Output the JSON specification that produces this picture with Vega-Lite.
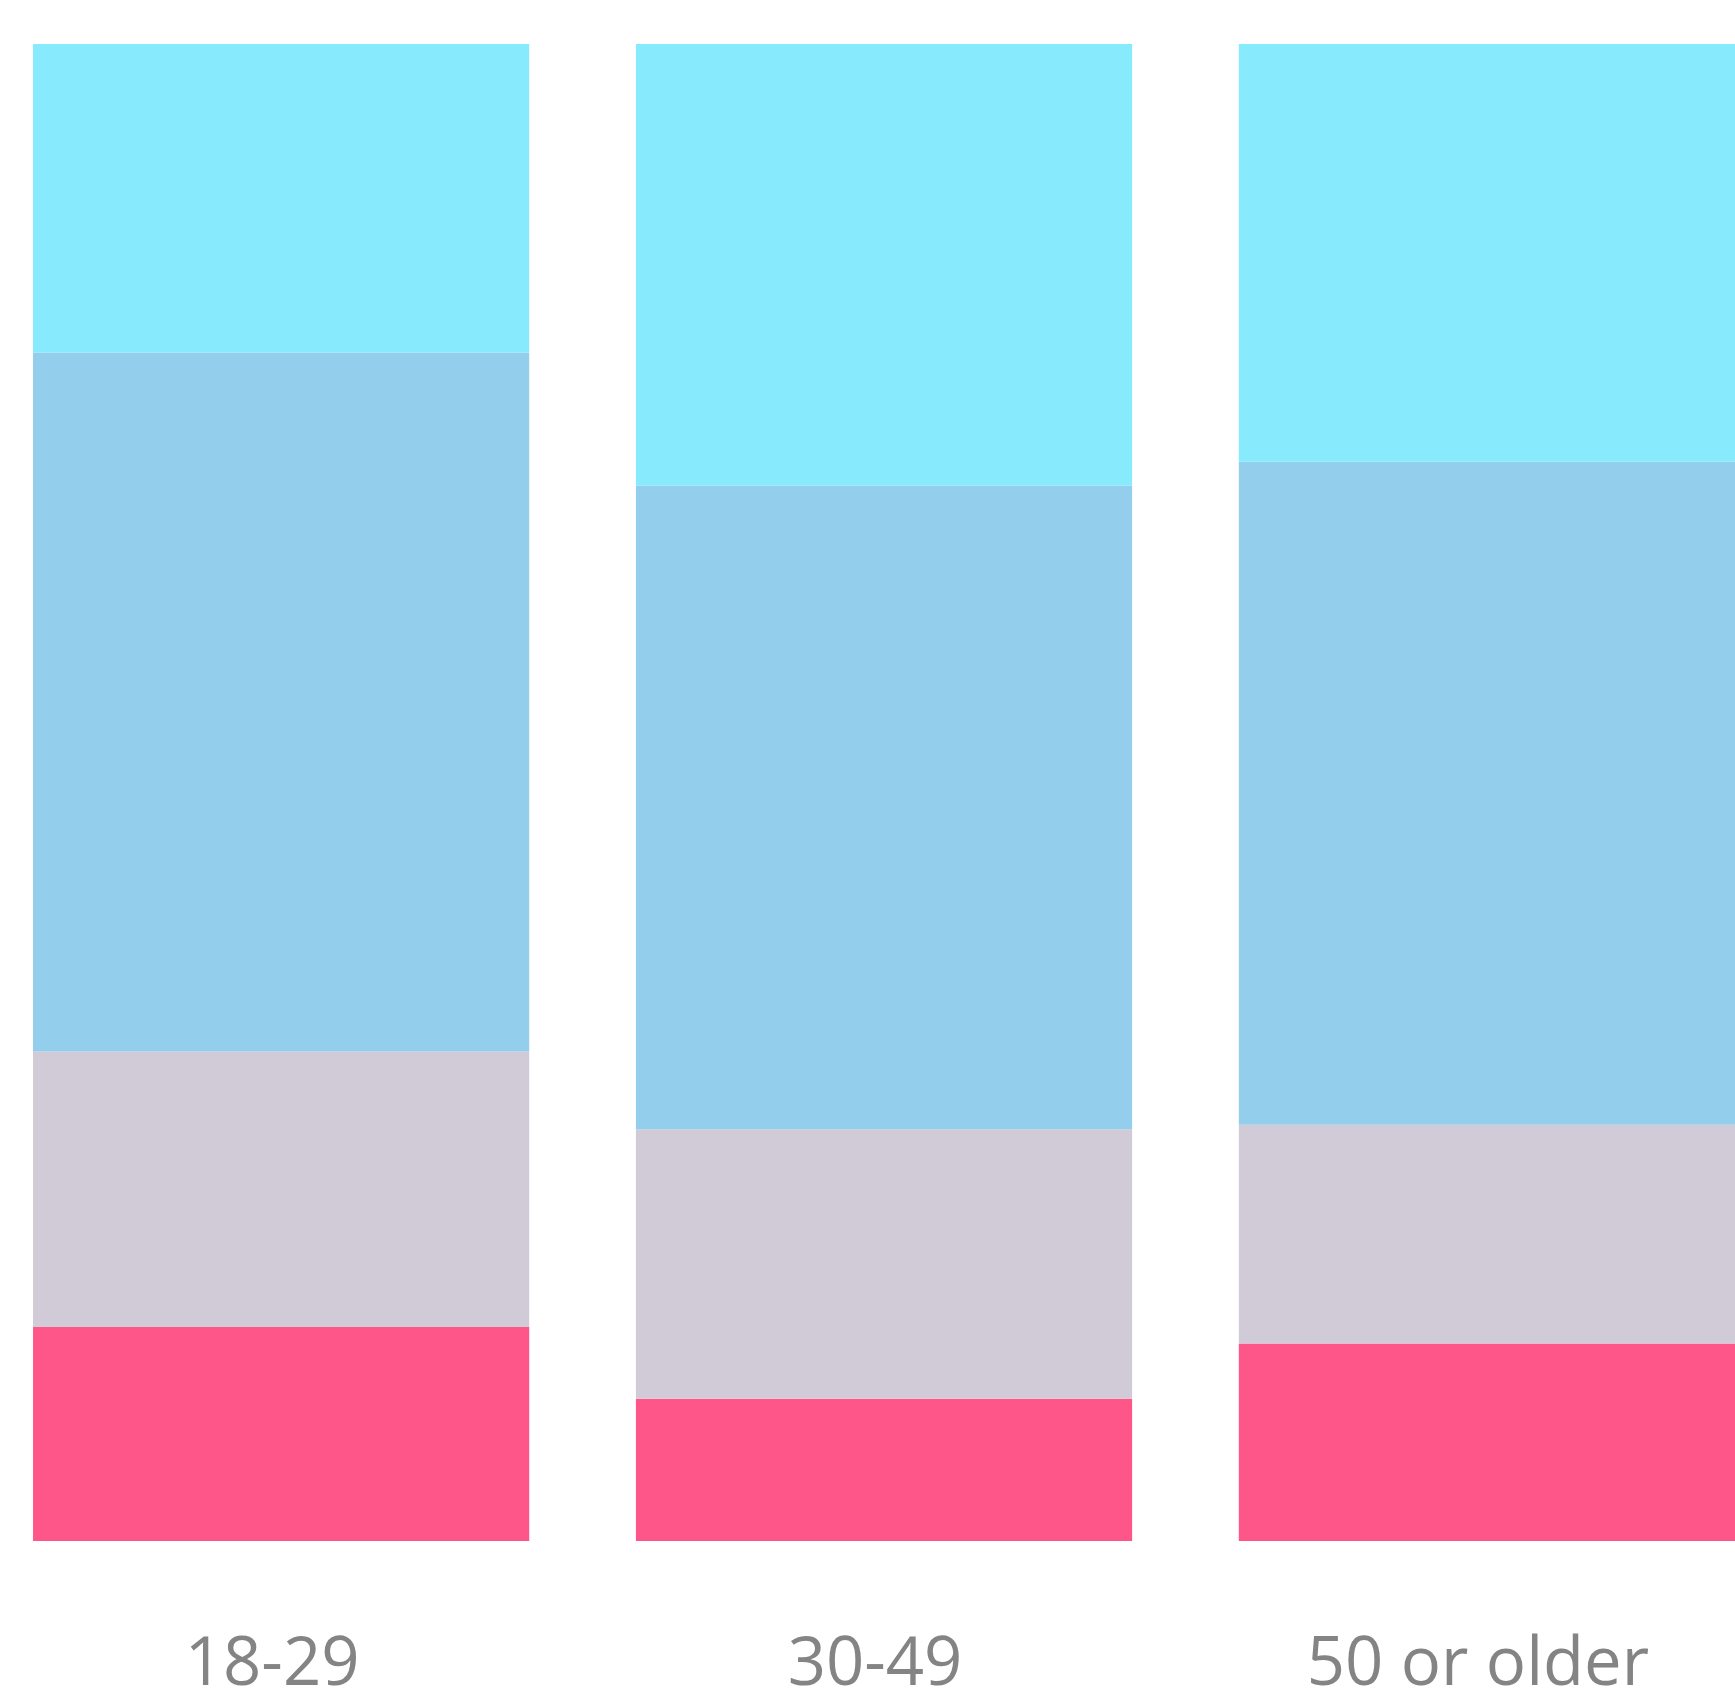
{
  "$schema": "https://vega.github.io/schema/vega-lite/v6.json",
  "width": 1735,
  "height": 1497,
  "autosize": "none",
  "padding": {"left": 0, "top": 44, "right": 0, "bottom": 159},
  "background": "#ffffff",
  "config": {"view": {"stroke": null}},
  "data": {
    "values": [
      {"age": "18-29", "tier": 1, "share": 14.3},
      {"age": "18-29", "tier": 2, "share": 18.4},
      {"age": "18-29", "tier": 3, "share": 46.7},
      {"age": "18-29", "tier": 4, "share": 20.6},
      {"age": "30-49", "tier": 1, "share": 9.5},
      {"age": "30-49", "tier": 2, "share": 18.0},
      {"age": "30-49", "tier": 3, "share": 43.0},
      {"age": "30-49", "tier": 4, "share": 29.5},
      {"age": "50 or older", "tier": 1, "share": 13.2},
      {"age": "50 or older", "tier": 2, "share": 14.6},
      {"age": "50 or older", "tier": 3, "share": 44.3},
      {"age": "50 or older", "tier": 4, "share": 27.9}
    ]
  },
  "mark": {"type": "bar"},
  "encoding": {
    "x": {
      "field": "age",
      "type": "nominal",
      "sort": ["18-29", "30-49", "50 or older"],
      "scale": {"paddingInner": 0.177, "paddingOuter": 0.0274, "align": 1},
      "axis": {
        "title": null,
        "domain": false,
        "ticks": false,
        "tickSize": 0,
        "labelAngle": 0,
        "labelBaseline": "alphabetic",
        "labelPadding": 143,
        "labelOffset": -9,
        "labelLimit": 0,
        "labelOverlap": false,
        "labelFont": "Open Sans",
        "labelFontSize": 67,
        "labelColor": "#848484"
      }
    },
    "y": {
      "field": "share",
      "type": "quantitative",
      "stack": "zero",
      "scale": {"domain": [0, 100], "nice": false, "zero": true},
      "axis": null
    },
    "color": {
      "field": "tier",
      "type": "ordinal",
      "scale": {"domain": [1, 2, 3, 4], "range": ["#ff5689", "#d1cbd7", "#94ceed", "#87eafd"]},
      "legend": null
    },
    "order": {"field": "tier", "type": "quantitative"}
  }
}
